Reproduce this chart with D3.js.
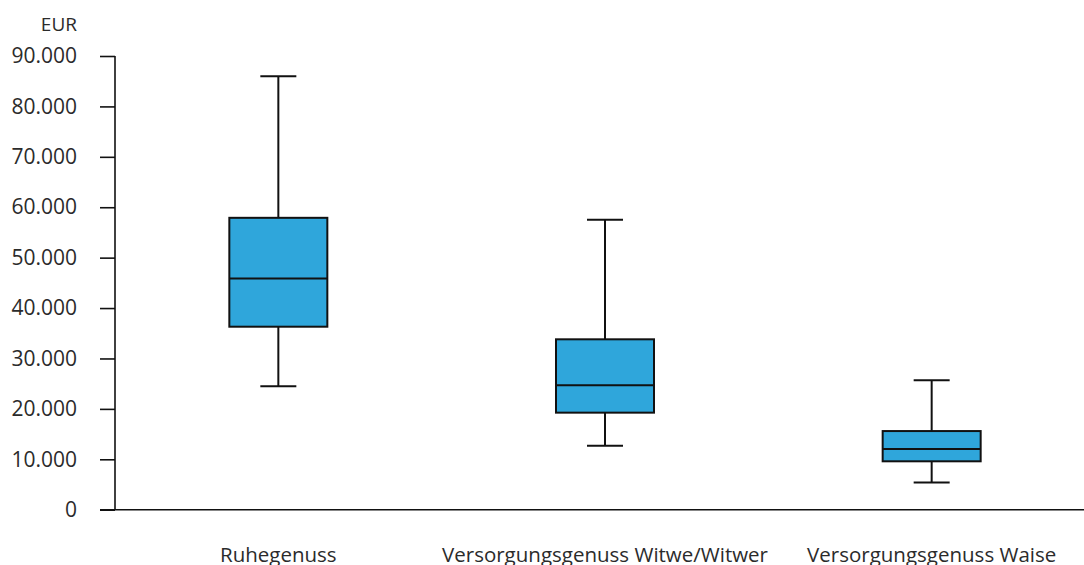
<!DOCTYPE html>
<html>
<head>
<meta charset="utf-8">
<script src="https://cdn.jsdelivr.net/npm/d3@7"></script>
<style>
  body { margin: 0; background: #fff; }
  svg text { font-family: "Open Sans", "Noto Sans", sans-serif; fill: #2b2b2b; }
</style>
</head>
<body>
<svg width="1084" height="565"></svg>
<script>
var categories = ["Ruhegenuss", "Versorgungsgenuss Witwe/Witwer", "Versorgungsgenuss Waise"];
var whiskerLow = [24500, 12700, 5400];
var q1 = [36300, 19250, 9600];
var median = [45850, 24700, 12050];
var q3 = [57900, 33800, 15600];
var whiskerHigh = [86000, 57500, 25700];
var yTicks = [0, 10000, 20000, 30000, 40000, 50000, 60000, 70000, 80000, 90000];

var svg = d3.select("svg"),
    axisX = 115,
    plotTop = 56,
    plotBottom = 509.7;

var x = d3.scaleBand().domain(categories).range([axisX, 1095]).paddingInner(0).paddingOuter(0),
    y = d3.scaleLinear().domain([0, 90000]).range([plotBottom, plotTop]);

var fmt = function(d) { return d === 0 ? "0" : d3.format(",")(d).replace(/,/g, "."); };

// y axis
var yAxis = svg.append("g")
    .attr("transform", "translate(" + axisX + ",0)")
    .call(d3.axisLeft(y).tickValues(yTicks).tickSize(15).tickPadding(23).tickFormat(fmt));
yAxis.select(".domain").remove();
yAxis.selectAll(".tick line").attr("stroke", "#111").attr("stroke-width", 1.6);
yAxis.selectAll(".tick text").style("font-size", "21px").attr("fill", "#2b2b2b");
yAxis.append("line")
    .attr("x1", 0).attr("x2", 0)
    .attr("y1", y(90000)).attr("y2", y(0))
    .attr("stroke", "#111").attr("stroke-width", 1.6);

// x axis line
svg.append("line")
    .attr("x1", 100).attr("x2", 1084)
    .attr("y1", y(0)).attr("y2", y(0))
    .attr("stroke", "#111").attr("stroke-width", 1.6);

svg.append("text")
    .attr("x", 77).attr("y", 31)
    .attr("text-anchor", "end")
    .style("font-size", "19px")
    .text("EUR");

// category labels
svg.selectAll(".cat")
    .data(categories)
  .enter().append("text")
    .attr("class", "cat")
    .attr("x", function(d) { return x(d) + x.bandwidth() / 2; })
    .attr("y", 562)
    .attr("text-anchor", "middle")
    .style("font-size", "20.5px")
    .text(function(d) { return d; });

var boxW = x.bandwidth() * 0.3,
    capW = 36;

var box = svg.selectAll(".box")
    .data(categories)
  .enter().append("g")
    .attr("class", "box")
    .attr("transform", function(d) { return "translate(" + (x(d) + x.bandwidth() / 2) + ",0)"; });

// whiskers
box.append("line")
    .attr("x1", 0).attr("x2", 0)
    .attr("y1", function(d, i) { return y(whiskerHigh[i]); })
    .attr("y2", function(d, i) { return y(q3[i]); })
    .attr("stroke", "#111").attr("stroke-width", 2);
box.append("line")
    .attr("x1", 0).attr("x2", 0)
    .attr("y1", function(d, i) { return y(q1[i]); })
    .attr("y2", function(d, i) { return y(whiskerLow[i]); })
    .attr("stroke", "#111").attr("stroke-width", 2);
box.append("line")
    .attr("x1", -capW / 2).attr("x2", capW / 2)
    .attr("y1", function(d, i) { return y(whiskerHigh[i]); })
    .attr("y2", function(d, i) { return y(whiskerHigh[i]); })
    .attr("stroke", "#111").attr("stroke-width", 2);
box.append("line")
    .attr("x1", -capW / 2).attr("x2", capW / 2)
    .attr("y1", function(d, i) { return y(whiskerLow[i]); })
    .attr("y2", function(d, i) { return y(whiskerLow[i]); })
    .attr("stroke", "#111").attr("stroke-width", 2);

box.append("rect")
    .attr("x", -boxW / 2)
    .attr("width", boxW)
    .attr("y", function(d, i) { return y(q3[i]); })
    .attr("height", function(d, i) { return y(q1[i]) - y(q3[i]); })
    .attr("fill", "#2fa6db")
    .attr("stroke", "#111").attr("stroke-width", 2);

box.append("line")
    .attr("x1", -boxW / 2).attr("x2", boxW / 2)
    .attr("y1", function(d, i) { return y(median[i]); })
    .attr("y2", function(d, i) { return y(median[i]); })
    .attr("stroke", "#111").attr("stroke-width", 2);
</script>
</body>
</html>
